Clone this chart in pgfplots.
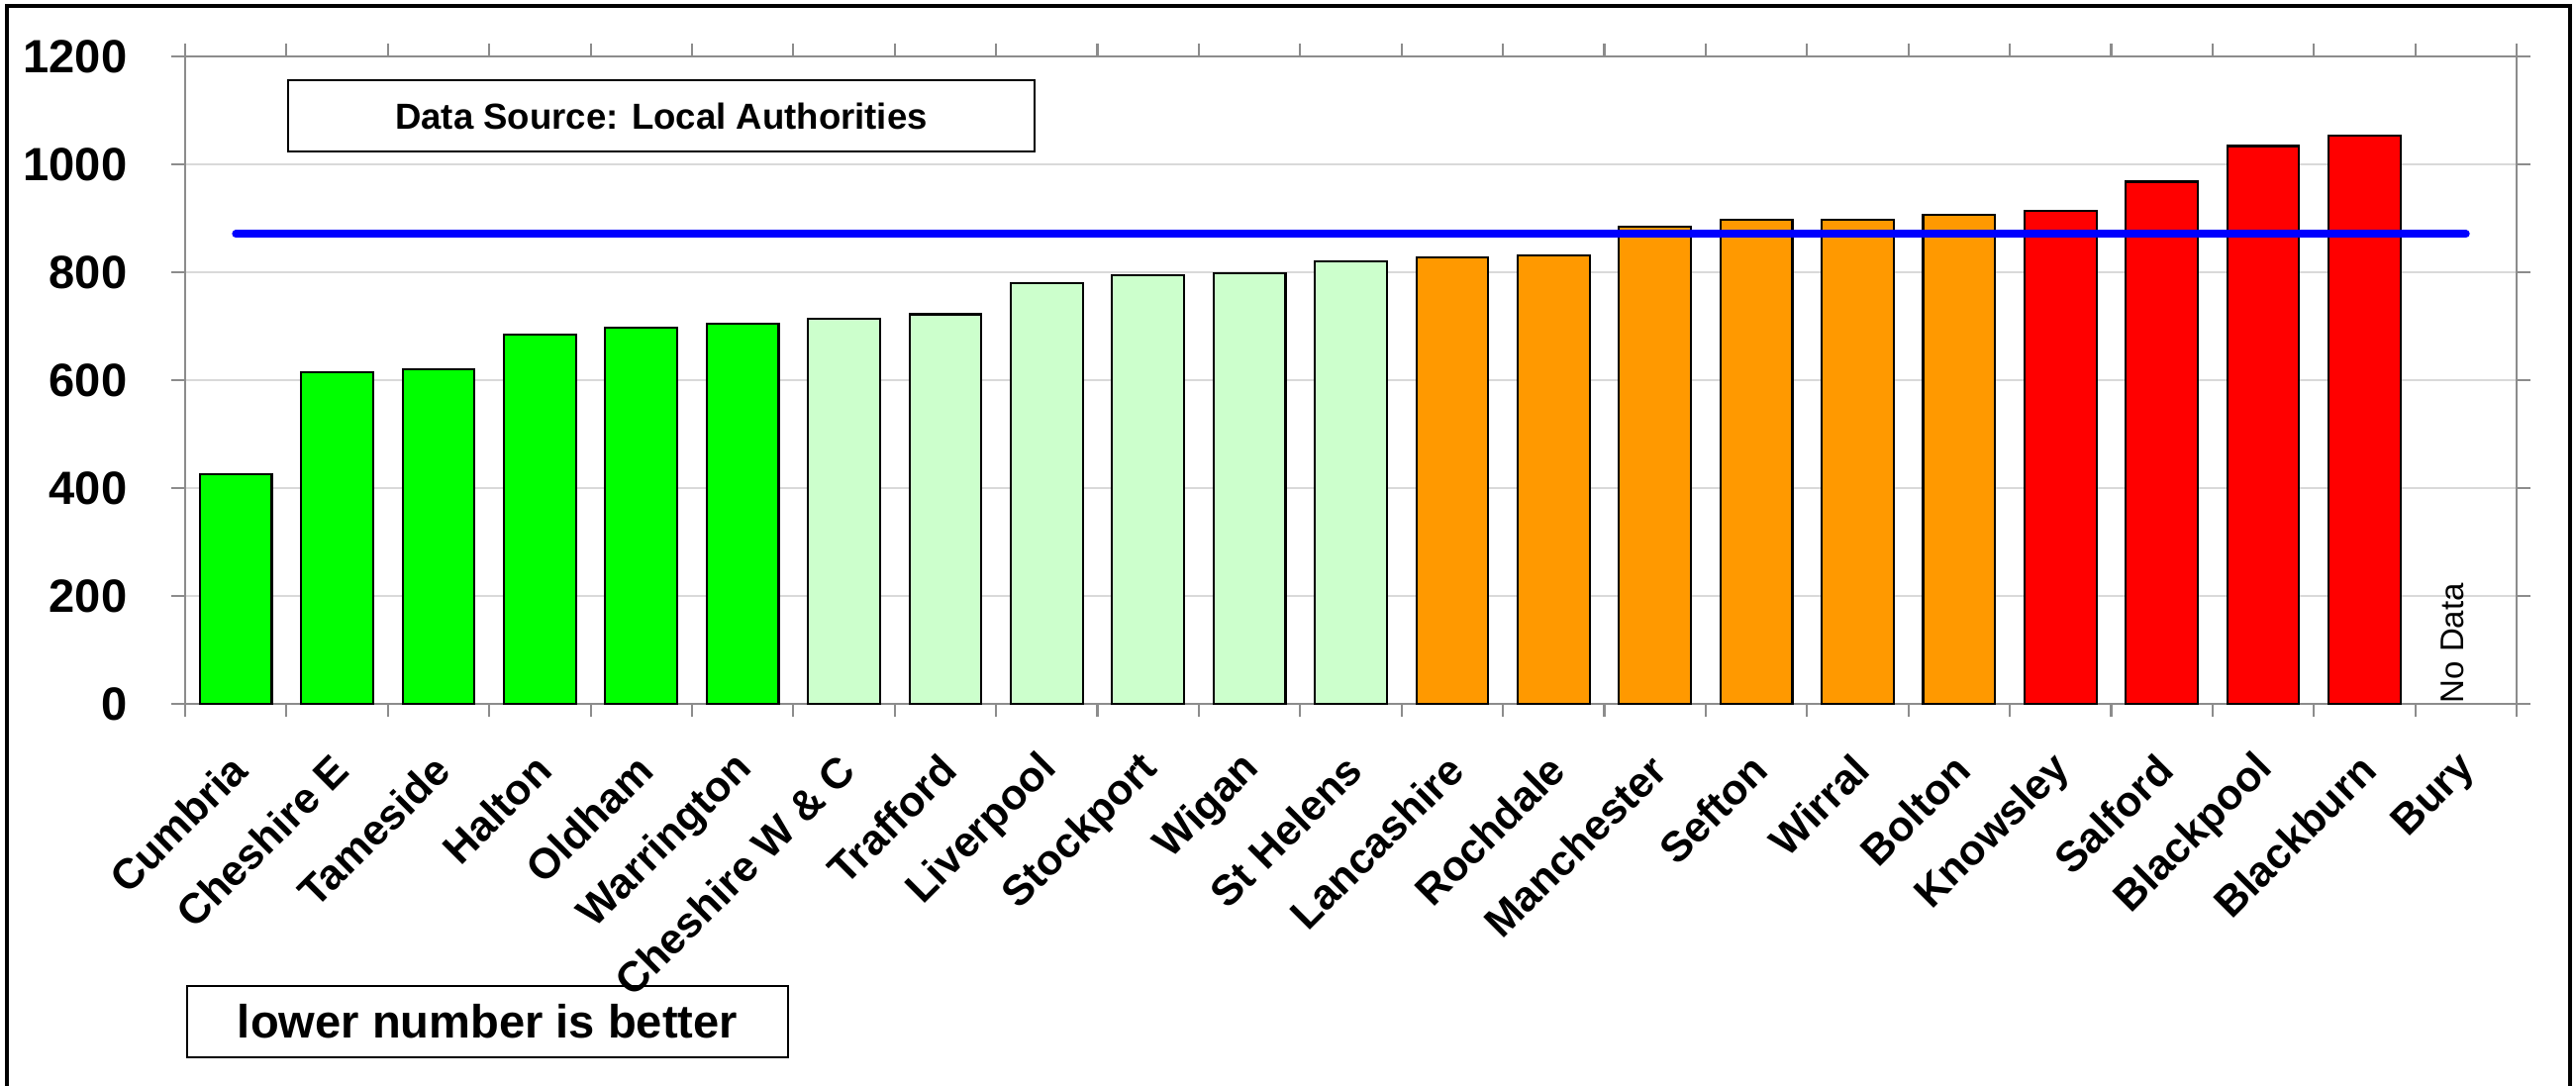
\documentclass[border=0pt]{standalone}
\usepackage{fontspec}
\setmainfont{Liberation Sans}
\usepackage{pgfplots}
\pgfplotsset{compat=1.18}
\definecolor{bargreen}{HTML}{00FF00}
\definecolor{barlight}{HTML}{CCFFCC}
\definecolor{barorange}{HTML}{FF9900}
\definecolor{barred}{HTML}{FF0000}
\definecolor{gridgray}{HTML}{D9D9D9}
\definecolor{axisgray}{HTML}{8C8C8C}

\begin{document}
\begin{tikzpicture}
\useasboundingbox (0,0) rectangle (26.02cm,10.96cm);
% outer frame (bottom edge lies outside the picture)
\draw[line width=0.9pt] (0.07cm,-0.2cm) -- (0.07cm,10.90cm) -- (25.96cm,10.90cm) -- (25.96cm,-0.2cm);
\begin{axis}[
at={(1.87cm,3.85cm)}, anchor=south west,
width=23.55cm, height=6.54cm, scale only axis,
xmin=-0.5, xmax=22.5,
ymin=0, ymax=1200,
ytick={0,200,...,1200},
xtick={0,...,22},
xticklabels={Cumbria, Cheshire E, Tameside, Halton, Oldham, Warrington,
  Cheshire W \& C, Trafford, Liverpool, Stockport, Wigan, St Helens,
  Lancashire, Rochdale, Manchester, Sefton, Wirral, Bolton, Knowsley,
  Salford, Blackpool, Blackburn, Bury},
minor xtick={-0.5,0.5,...,22.5},
major x tick style={draw=none},
tick align=outside,
major tick length=0.14cm,
minor tick length=0.13cm,
tick style={axisgray, line width=0.6pt},
ymajorgrids=true,
major grid style={gridgray, line width=0.6pt},
axis line style={axisgray, line width=0.8pt},
/pgf/number format/assume math mode=true,
/pgf/number format/1000 sep={},
yticklabel style={font=\bfseries\fontsize{13.4}{14}\selectfont, inner sep=0pt, anchor=east, xshift=-0.44cm},
xticklabel style={font=\bfseries\fontsize{12.2}{13}\selectfont, inner sep=0pt,
  xshift=0.04cm, yshift=-0.45cm, rotate=45, anchor=east},
clip=false,
]
\addplot[ybar, bar width=0.71, fill=bargreen, draw=black, line width=0.6pt] coordinates {
(0,426) (1,615) (2,620) (3,684) (4,698) (5,704)
};
\addplot[ybar, bar width=0.71, fill=barlight, draw=black, line width=0.6pt] coordinates {
(6,713) (7,722) (8,780) (9,795) (10,799) (11,820)
};
\addplot[ybar, bar width=0.71, fill=barorange, draw=black, line width=0.6pt] coordinates {
(12,827) (13,832) (14,884) (15,898) (16,898) (17,906)
};
\addplot[ybar, bar width=0.71, fill=barred, draw=black, line width=0.6pt] coordinates {
(18,913) (19,968) (20,1034) (21,1054)
};
% average line
\addplot[blue, line width=2.2pt, line cap=round] coordinates {(0,871) (22,871)};
\node[rotate=90, anchor=west, inner sep=0pt, font=\fontsize{9.4}{10}\selectfont]
  at (axis cs:22,0) [yshift=0.14cm] {No Data};
\end{axis}
\draw[line width=0.8pt] (2.91cm,9.43cm) rectangle (10.45cm,10.15cm);
\node[font=\bfseries\fontsize{10.4}{11}\selectfont] at (6.68cm,9.79cm) {Data Source: Local Authorities};
\draw[line width=0.8pt] (1.89cm,0.28cm) rectangle (7.96cm,1.00cm);
\node[font=\bfseries\fontsize{13.4}{14}\selectfont] at (4.925cm,0.64cm) {lower number is better};
\end{tikzpicture}
\end{document}
